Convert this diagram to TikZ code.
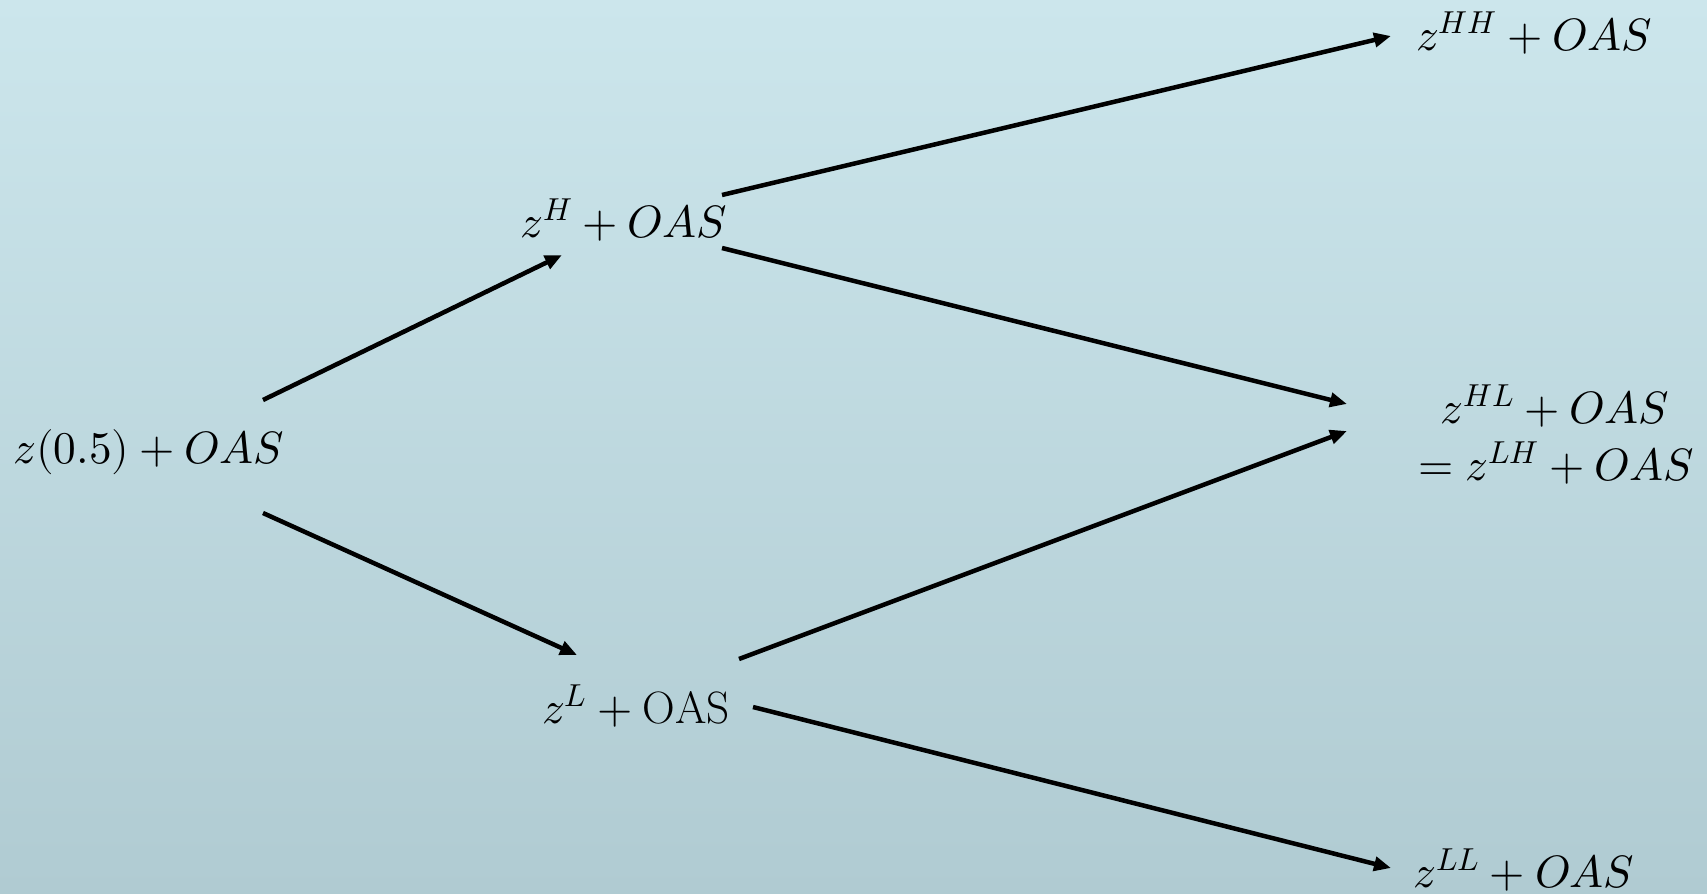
\documentclass[tikz,border=0pt]{standalone}
\usepackage{unicode-math}
\usetikzlibrary{arrows.meta,calc}
\definecolor{bgtop}{RGB}{204,230,236}
\definecolor{bgbot}{RGB}{176,203,210}
\begin{document}
\begin{tikzpicture}[x=1bp,y=-1bp,
  lbl/.style={inner sep=0pt, anchor=base, font=\fontsize{45.5}{55}\selectfont},
  arr/.style={line width=4.5bp, -{Triangle[length=17bp,width=14bp]}}]
\shade[top color=bgtop,bottom color=bgbot] (0,0) rectangle (1707,893);
\useasboundingbox (0,0) rectangle (1707,893);
\node[lbl] (z0)  at (149,463)  {$z(0.5) + OAS$};
\node[lbl] (zH)  at (624,237)  {$z^{H} + OAS$};
\node[lbl] (zL)  at (636,723)  {$z^{L} + \mathrm{OAS}$};
\node[lbl] (zHH) at (1534,50)  {$z^{HH} + OAS$};
\node[lbl] (zHL) at (1555,423) {$z^{HL} + OAS$};
\node[lbl] (zLH) at (1556,480) {$= z^{LH} + OAS$};
\node[lbl] (zLL) at (1524,887) {$z^{LL} + OAS$};
\draw[arr] ($(z0.base)+(114,-63)$) -- ($(zH.base)+(-62,18)$);
\draw[arr] ($(z0.base)+(114,50)$) -- ($(zL.base)+(-59,-68)$);
\draw[arr] ($(zH.base)+(98,-42)$) -- ($(zHH.base)+(-143,-14)$);
\draw[arr] ($(zH.base)+(98,11)$) -- ($(zHL.base)+(-208,-19)$);
\draw[arr] ($(zL.base)+(103,-64)$) -- ($(zHL.base)+(-208,8)$);
\draw[arr] ($(zL.base)+(117,-16)$) -- ($(zLL.base)+(-133,-19)$);
\end{tikzpicture}
\end{document}
